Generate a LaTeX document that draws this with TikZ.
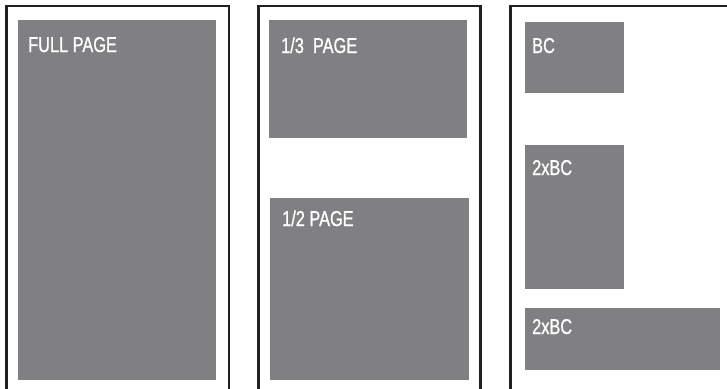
\documentclass[tikz,border=0pt]{standalone}
\usepackage{fontspec}
\setmainfont{Liberation Sans}[FakeStretch=0.76, FakeBold=1]
\usepackage{tikz}
\usetikzlibrary{positioning, calc}
\definecolor{adGray}{RGB}{128, 128, 131}
\definecolor{frameBlack}{RGB}{35, 31, 32}
\tikzset{
  pageframe/.style={draw=frameBlack, line width=2.7pt},
  adbox/.style={rectangle, fill=adGray, inner sep=0pt, outer sep=0pt,
                anchor=north west},
  adlabel/.style={anchor=base west, inner sep=0pt, text=white,
                  font=\fontsize{21.5}{22}\selectfont},
}

\begin{document}
\begin{tikzpicture}[x=1pt, y=-1pt]
    \useasboundingbox (0,0) rectangle (727,388);

    % page frames (open at the bottom)
    \draw[pageframe] (6.5,392) -- (6.5,6) -- (229,6) -- (229,392);
    \draw[pageframe] (258.5,392) -- (258.5,6) -- (480.5,6) -- (480.5,392);
    \draw[pageframe] (510.5,392) -- (510.5,6) -- (731,6);

    % ad blocks
    \node[adbox, minimum width=198pt, minimum height=360pt] (full) at (18,20) {};
    \node[adbox, minimum width=198pt, minimum height=118pt] (third) at (269,20) {};
    \node[adbox, minimum width=199pt, minimum height=182pt] (half) at (270,198) {};
    \node[adbox, minimum width=99pt, minimum height=71pt] (bc) at (525,22) {};
    \node[adbox, minimum width=99pt, minimum height=144pt] (bcv) at (525,145) {};
    \node[adbox, minimum width=195pt, minimum height=62pt] (bch) at (525,308) {};

    % labels
    \node[adlabel] (fulltxt) at ($(full.north west)+(10,32)$) {FULL PAGE};
    \node[adlabel] (thirdtxt) at ($(third.north west)+(12,33)$) {1/3\ \ PAGE};
    \node[adlabel] (halftxt) at ($(half.north west)+(12,28)$) {1/2 PAGE};
    \node[adlabel] (bctxt) at ($(bc.north west)+(7,31)$) {BC};
    \node[adlabel] (bcvtxt) at ($(bcv.north west)+(7,30)$) {2xBC};
    \node[adlabel] (bchtxt) at ($(bch.north west)+(7,26)$) {2xBC};
  \end{tikzpicture}
\end{document}
